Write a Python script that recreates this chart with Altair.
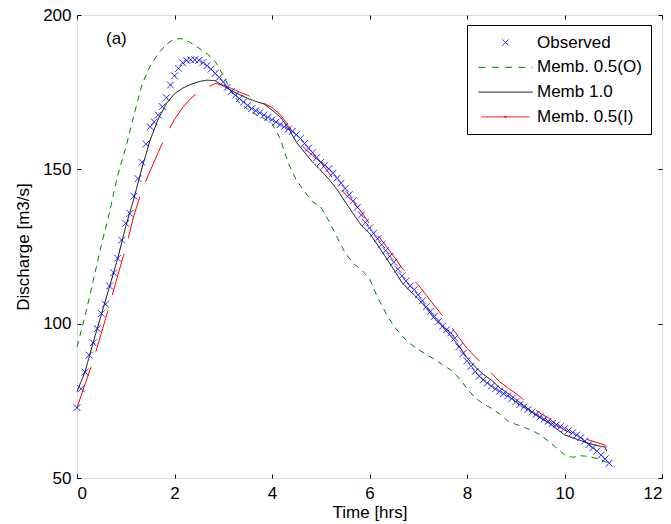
import altair as alt
import pandas as pd

# ---------------- data ----------------
series_names = ["Observed", "Memb. 0.5(O)", "Memb 1.0", "Memb. 0.5(I)"]
series_colors = ["#0000ff", "#008000", "#000000", "#ff0000"]

# observed: every 5 minutes
obs_minutes = [
    0, 5, 10, 15, 20, 25, 30, 35, 40, 45, 50, 55, 60, 65, 70, 75, 80, 85, 90, 95,
    100, 105, 110, 115, 120, 125, 130, 135, 140, 145, 150, 155, 160, 165, 170, 175,
    180, 185, 190, 195, 200, 205, 210, 215, 220, 225, 230, 235, 240, 245, 250, 255,
    260, 265, 270, 275, 280, 285, 290, 295, 300, 305, 310, 315, 320, 325, 330, 335,
    340, 345, 350, 355, 360, 365, 370, 375, 380, 385, 390, 395, 400, 405, 410, 415,
    420, 425, 430, 435, 440, 445, 450, 455, 460, 465, 470, 475, 480, 485, 490, 495,
    500, 505, 510, 515, 520, 525, 530, 535, 540, 545, 550, 555, 560, 565, 570, 575,
    580, 585, 590, 595, 600, 605, 610, 615, 620, 625, 630, 635, 640, 645, 650, 655,
]
obs_q = [
    72.8, 78.9, 84.3, 89.8, 93.8, 98.4, 103.3, 106.3, 112.2, 116.5, 121.2, 127.1,
    132.5, 135.7, 141.3, 147.0, 152.3, 158.2, 163.8, 165.4, 167.6, 170.3, 173.2, 177.3,
    180.3, 182.7, 184.5, 185.3, 185.5, 185.5, 185.3, 184.6, 183.6, 182.5, 181.1, 179.8,
    178.3, 176.6, 175.2, 174.0, 172.9, 171.8, 170.7, 169.7, 169.0, 168.3, 167.6, 166.8,
    166.1, 165.3, 164.5, 163.8, 163.0, 162.3, 161.2, 160.0, 158.4, 156.9, 155.4, 153.8,
    152.3, 151.3, 150.2, 148.7, 147.1, 145.5, 143.8, 141.8, 139.8, 137.7, 135.2, 132.8,
    131.0, 129.3, 127.5, 125.6, 123.7, 121.8, 119.9, 117.6, 115.5, 113.8, 112.2, 111.0,
    109.3, 107.4, 105.5, 104.0, 102.4, 100.8, 99.2, 98.1, 97.0, 95.3, 92.5, 90.3,
    88.0, 86.2, 84.5, 83.0, 81.8, 80.8, 79.8, 78.9, 78.1, 77.3, 76.6, 75.7,
    74.7, 73.8, 73.0, 72.2, 71.4, 70.6, 69.8, 69.1, 68.4, 67.7, 67.2, 66.7,
    66.0, 65.4, 64.7, 63.9, 63.1, 62.0, 60.8, 59.8, 58.7, 57.4, 56.2, 54.8,
]

# simulations: every 10 minutes plus the last sample
sim_minutes = [
    0, 10, 20, 30, 40, 50, 60, 70, 80, 90, 100, 110, 120, 130, 140, 150, 160, 170,
    180, 190, 200, 210, 220, 230, 240, 250, 260, 270, 280, 290, 300, 310, 320, 330,
    340, 350, 360, 370, 380, 390, 400, 410, 420, 430, 440, 450, 460, 470, 480, 490,
    500, 510, 520, 530, 540, 550, 560, 570, 580, 590, 600, 610, 620, 630, 640, 650,
]
green_end_minute = 655
black_end_minute = 652
red_end_minute = 652

memb05o_q = [
    92.5, 102.5, 114.0, 125.5, 136.0, 148.0, 157.0, 167.5, 177.5, 183.5, 187.5, 190.5,
    192.3, 192.3, 191.0, 189.3, 187.5, 185.0, 180.5, 175.0, 171.5, 169.5, 167.8, 166.5,
    164.8, 160.0, 152.0, 146.5, 142.8, 139.5, 137.8, 133.3, 128.0, 123.0, 119.5, 117.5,
    114.5, 108.5, 103.5, 99.2, 96.0, 93.5, 91.6, 90.0, 88.4, 86.7, 85.0, 82.4,
    79.0, 76.0, 74.0, 72.6, 70.8, 68.5, 67.4, 66.4, 65.4, 64.0, 62.0, 59.8,
    57.5, 56.7, 57.2, 57.0, 56.3, 55.3, 54.7,
]
memb10_q = [
    78.0, 84.5, 94.0, 103.0, 112.0, 121.0, 131.5, 140.5, 150.5, 159.5, 166.3, 171.3,
    174.5, 176.3, 177.5, 178.4, 178.9, 178.7, 177.0, 175.5, 174.2, 173.0, 172.0, 171.2,
    169.2, 167.0, 163.5, 158.8, 155.5, 152.3, 149.7, 146.8, 143.5, 139.5, 135.6, 131.8,
    129.3, 125.5, 121.5, 117.5, 113.3, 110.6, 108.0, 105.0, 101.6, 99.0, 96.0, 92.8,
    89.0, 86.0, 83.6, 81.7, 79.3, 77.5, 75.5, 73.5, 71.3, 69.5, 68.0, 66.0,
    64.0, 63.0, 62.1, 61.2, 60.5, 60.0, 58.6,
]
memb05i_q = [
    72.8, 80.5, 88.0, 97.0, 106.0, 115.5, 124.5, 135.0, 143.3, 149.5, 155.5, 161.3,
    166.2, 170.0, 173.0, 175.0, 176.5, 177.8, 177.3, 176.2, 175.0, 174.0, 172.8, 171.4,
    170.0, 167.8, 164.2, 160.5, 156.8, 154.5, 152.3, 148.8, 145.3, 142.0, 139.5, 136.2,
    132.4, 128.8, 125.2, 121.8, 118.0, 115.0, 112.6, 109.2, 105.8, 102.5, 99.2, 95.5,
    92.0, 89.3, 86.8, 84.0, 81.2, 79.2, 77.4, 75.3, 72.9, 71.0, 69.5, 67.3,
    65.5, 64.3, 63.2, 62.3, 61.5, 60.6, 60.0,
]

x_ticks = [0, 2, 4, 6, 8, 10, 12]
y_ticks = [50, 100, 150, 200]

# ---------------- tables ----------------
obs_df = pd.DataFrame({
    "series": [series_names[0]] * len(obs_q),
    "t": [m / 60.0 for m in obs_minutes],
    "Q": obs_q,
})


def sim_table(name, q_list, end_m):
    mins = sim_minutes + [end_m]
    return pd.DataFrame({
        "series": [name] * len(q_list),
        "t": [m / 60.0 for m in mins],
        "Q": q_list,
    })


green_df = sim_table(series_names[1], memb05o_q, green_end_minute)
black_df = sim_table(series_names[2], memb10_q, black_end_minute)
red_df = sim_table(series_names[3], memb05i_q, red_end_minute)

FONT = "Liberation Sans"

x_scale = alt.Scale(domain=[0, 12], nice=False, zero=False)
y_scale = alt.Scale(domain=[50, 200], nice=False, zero=False)
color_scale = alt.Scale(domain=series_names, range=series_colors)

common_axis = dict(
    domain=False, grid=False, ticks=True, tickSize=4, tickColor="black",
    tickWidth=1, offset=-4, labelFont=FONT, labelFontSize=17,
    labelColor="black", titleFont=FONT, titleFontSize=17, titleColor="black",
    titleFontWeight="normal",
)

bottom_axis = alt.Axis(orient="bottom", values=x_ticks, labelPadding=7,
                       title="Time [hrs]", titlePadding=3, **common_axis)
left_axis = alt.Axis(orient="left", values=y_ticks, labelPadding=6,
                     title="Discharge [m3/s]", titlePadding=10, **common_axis)
top_axis = alt.Axis(orient="top", values=x_ticks, labels=False, title=None,
                    **common_axis)
right_axis = alt.Axis(orient="right", values=y_ticks, labels=False, title=None,
                      **common_axis)


def sim_line(df, colour, dash, with_axes):
    return alt.Chart(df).mark_line(strokeWidth=1, strokeDash=dash, color=colour).encode(
        x=alt.X("t:Q", scale=x_scale, axis=bottom_axis if with_axes else None),
        y=alt.Y("Q:Q", scale=y_scale, axis=left_axis if with_axes else None),
    )


green_line = sim_line(green_df, series_colors[1], [6, 5], True)
black_line = sim_line(black_df, series_colors[2], [1, 0], False)
red_line = sim_line(red_df, series_colors[3], [43, 16], False)

x_path = "M-1,-1L1,1M-1,1L1,-1"
legend_x_path = "M-1.1,-1.1L1.1,1.1M-1.1,1.1L1.1,-1.1"
line_path = "M-9,0L9,0"
dot_line_path = "M-8,0L8,0M-0.3,0A0.3,0.3 0 1 0 0.3,0A0.3,0.3 0 1 0 -0.3,0"

legend = alt.Legend(
    title=None, orient="none", legendX=390, legendY=10,
    padding=9, strokeColor="black", fillColor="white",
    labelFont=FONT, labelFontSize=17, labelColor="black",
    symbolStrokeWidth=1, symbolSize=36, symbolOffset=21,
    labelOffset=23, rowPadding=6.8,
)

points = alt.Chart(obs_df).mark_point(filled=False, size=45, strokeWidth=1, opacity=1).encode(
    x=alt.X("t:Q", scale=x_scale, axis=top_axis),
    y=alt.Y("Q:Q", scale=y_scale, axis=right_axis),
    color=alt.Color("series:N", scale=color_scale, legend=legend),
    shape=alt.Shape(
        "series:N",
        scale=alt.Scale(domain=series_names,
                        range=[x_path, line_path, line_path, dot_line_path]),
        legend=legend,
    ),
    strokeDash=alt.StrokeDash(
        "series:N",
        scale=alt.Scale(domain=series_names,
                        range=[[1, 0], [7, 6.3], [1, 0], [1, 0]]),
        legend=legend,
    ),
)

chart = (
    alt.layer(green_line, black_line, red_line, points)
    .resolve_axis(x="independent", y="independent")
    .properties(
        width=585, height=463,
        autosize=alt.AutoSizeParams(type="none"),
        padding={"left": 69, "top": 7, "right": 1, "bottom": 45},
        title=alt.TitleParams(
            text="(a)", anchor="start", frame="group", orient="top",
            dx=29, dy=26, offset=-16, baseline="top", font=FONT, fontSize=17,
            fontWeight="normal", color="black",
        ),
    )
    .configure_view(stroke="black", strokeWidth=1, fill="white")
    .configure(background="white")
)

chart.save("out.html", embed_options={"renderer": "svg", "actions": False})
